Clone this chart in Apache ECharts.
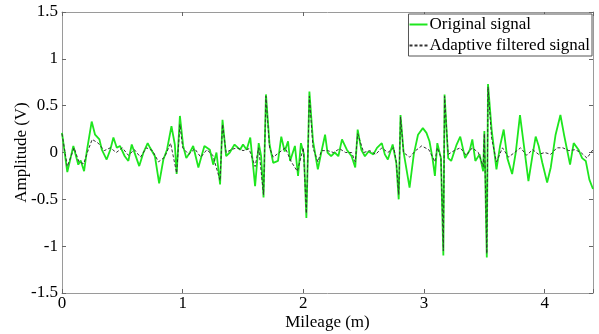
<!DOCTYPE html>
<html>
<head>
<meta charset="utf-8">
<script src="https://cdn.jsdelivr.net/npm/echarts@6/dist/echarts.min.js"></script>
<style>html,body{margin:0;padding:0;background:#fff}#c{width:599px;height:334px}</style>
</head>
<body>
<div id="c"></div>
<script>
const xTicks = [0, 1, 2, 3, 4];
const yTicks = [-1.5, -1, -0.5, 0, 0.5, 1, 1.5];

const origMileage = [0,0.044,0.094,0.135,0.155,0.183,0.205,0.246,0.274,0.31,0.33,0.37,0.40,0.426,0.454,0.48,0.52,0.55,0.578,0.606,0.64,0.675,0.71,0.73,0.77,0.805,0.84,0.87,0.907,0.935,0.95,0.977,1.004,1.03,1.06,1.087,1.13,1.156,1.18,1.225,1.253,1.28,1.31,1.33,1.36,1.39,1.43,1.475,1.50,1.53,1.56,1.585,1.60,1.63,1.65,1.67,1.69,1.72,1.75,1.79,1.817,1.845,1.873,1.89,1.93,1.956,1.98,2.005,2.025,2.05,2.08,2.12,2.15,2.18,2.20,2.23,2.26,2.29,2.32,2.36,2.40,2.43,2.45,2.48,2.51,2.54,2.58,2.61,2.65,2.675,2.70,2.74,2.77,2.79,2.805,2.83,2.88,2.915,2.95,2.99,3.02,3.045,3.07,3.09,3.11,3.14,3.16,3.17,3.20,3.225,3.27,3.30,3.34,3.38,3.40,3.425,3.46,3.49,3.50,3.52,3.53,3.56,3.60,3.63,3.66,3.69,3.73,3.76,3.795,3.83,3.865,3.90,3.925,3.95,3.98,4.02,4.05,4.09,4.13,4.16,4.21,4.24,4.28,4.31,4.34,4.37,4.40];
const origValues = [0.21,-0.21,0.07,-0.13,-0.085,-0.2,0.01,0.33,0.19,0.14,0.03,-0.075,0.03,0.16,0.05,0.07,-0.04,-0.09,0.085,-0.02,-0.145,0.0,0.1,0.05,-0.04,-0.33,-0.075,0.03,0.28,0.085,-0.23,0.39,0.07,-0.06,0.0,0.07,-0.16,-0.04,0.07,0.03,-0.13,0.0,-0.34,0.35,-0.04,0.0,0.085,0.03,0.085,0.03,0.16,-0.16,-0.36,0.1,-0.04,-0.48,0.62,0.085,-0.11,-0.09,0.17,0.01,0.12,-0.09,0.07,-0.25,0.1,-0.02,-0.70,0.65,0.12,-0.18,0.01,0.19,0.0,-0.04,0.0,-0.04,0.14,0.03,-0.04,-0.16,0.245,0.03,-0.04,0.01,-0.02,0.05,0.1,-0.02,-0.075,0.085,-0.11,-0.5,0.40,0.01,-0.375,-0.02,0.19,0.26,0.21,0.12,-0.06,-0.25,0.1,-0.06,-1.10,0.62,-0.06,-0.09,0.085,0.17,-0.06,0.03,0.14,-0.09,-0.02,-0.2,0.23,-1.12,0.73,0.245,-0.18,0.07,0.245,-0.06,-0.23,0.0,0.40,0.05,-0.305,-0.02,0.17,0.07,-0.11,-0.32,-0.16,0.19,0.40,0.19,-0.13,0.1,0.03,-0.06,-0.09,-0.29,-0.39];

const filtMileage = [0,0.044,0.1,0.14,0.18,0.21,0.25,0.3,0.35,0.4,0.45,0.5,0.55,0.6,0.65,0.7,0.75,0.8,0.85,0.9,0.95,0.977,1.0,1.05,1.1,1.15,1.2,1.25,1.31,1.33,1.36,1.4,1.45,1.5,1.55,1.6,1.63,1.67,1.69,1.72,1.75,1.8,1.85,1.9,1.95,2.0,2.025,2.05,2.08,2.12,2.15,2.2,2.25,2.3,2.35,2.4,2.43,2.45,2.5,2.55,2.6,2.65,2.7,2.75,2.77,2.79,2.805,2.83,2.88,2.93,2.98,3.04,3.09,3.11,3.14,3.16,3.17,3.2,3.25,3.3,3.35,3.4,3.45,3.49,3.5,3.52,3.53,3.56,3.6,3.65,3.7,3.75,3.8,3.85,3.9,3.95,4.0,4.05,4.1,4.15,4.2,4.25,4.3,4.35,4.4];
const filtValues = [0.2,-0.15,0.05,-0.1,-0.12,0.0,0.14,0.1,0.02,0.05,0.0,0.05,-0.03,0.03,-0.05,0.05,0.02,-0.1,-0.05,0.1,-0.22,0.3,0.05,-0.02,0.04,-0.05,0.03,-0.03,-0.3,0.3,0.0,0.03,0.05,0.02,0.04,-0.15,0.05,-0.45,0.6,0.05,-0.05,0.0,0.05,-0.1,-0.2,0.05,-0.65,0.6,0.05,-0.1,0.02,0.02,0.0,0.04,0.0,0.0,-0.1,0.2,0.0,0.02,-0.02,0.05,0.0,0.05,-0.1,-0.45,0.38,0.0,-0.05,0.02,0.07,0.03,-0.1,0.05,-0.05,-1.05,0.6,-0.02,0.02,0.05,-0.03,0.05,0.0,-0.15,0.2,-1.08,0.7,0.15,-0.1,0.05,-0.05,0.0,0.05,-0.03,0.03,-0.02,0.0,-0.02,0.05,0.05,0.02,0.03,0.0,-0.06,0.03];

const origData = origMileage.map((x, i) => [x, origValues[i]]);
const filtData = filtMileage.map((x, i) => [x, filtValues[i]]);

const FONT = '"Liberation Serif", "DejaVu Serif", serif';
const axisColor = '#9a9a9a';
const FS = 17;

const chart = echarts.init(document.getElementById('c'), null, {renderer: 'canvas'});
chart.setOption({
  animation: false,
  backgroundColor: '#fff',
  grid: {left: 62, right: 6, top: 12, bottom: 41, containLabel: false, outerBoundsMode: 'none'},
  legend: {
    orient: 'vertical',
    right: 7,
    top: 14,
    align: 'left',
    itemWidth: 18,
    itemHeight: 10,
    itemGap: 4,
    padding: [2, 2, 2, 0],
    borderColor: '#555',
    borderWidth: 1,
    backgroundColor: '#fff',
    itemStyle: {opacity: 0, borderWidth: 0},
    textStyle: {fontFamily: FONT, fontSize: FS, color: '#000', padding: [0, 0, 0, -3]},
    data: ['Original signal', 'Adaptive filtered signal']
  },
  xAxis: [{
    type: 'value', min: 0, max: 4.4, interval: 1,
    name: 'Mileage (m)', nameLocation: 'middle', nameGap: 21, nameMoveOverlap: false,
    nameTextStyle: {fontFamily: FONT, fontSize: FS, color: '#000'},
    axisLine: {onZero: false, lineStyle: {color: axisColor}},
    axisTick: {inside: true, length: 4, lineStyle: {color: '#666'}},
    axisLabel: {fontFamily: FONT, fontSize: FS, color: '#000', margin: 2,
      formatter: v => xTicks.indexOf(v) >= 0 ? String(v) : ''},
    splitLine: {show: false}
  }, {
    type: 'value', min: 0, max: 4.4, interval: 1, position: 'top',
    axisLine: {show: true, onZero: false, lineStyle: {color: axisColor}},
    axisTick: {show: true, inside: true, length: 4, lineStyle: {color: '#666'}},
    axisLabel: {show: false}, splitLine: {show: false}
  }],
  yAxis: [{
    type: 'value', min: -1.5, max: 1.5, interval: 0.5,
    name: 'Amplitude (V)', nameLocation: 'middle', nameGap: 32, nameMoveOverlap: false,
    nameTextStyle: {fontFamily: FONT, fontSize: FS, color: '#000'},
    axisLine: {show: true, onZero: false, lineStyle: {color: axisColor}},
    axisTick: {show: true, inside: true, length: 4, lineStyle: {color: '#666'}},
    axisLabel: {fontFamily: FONT, fontSize: FS, color: '#000', margin: 4,
      formatter: v => yTicks.indexOf(v) >= 0 ? String(v) : ''},
    splitLine: {show: false}
  }, {
    type: 'value', min: -1.5, max: 1.5, interval: 0.5, position: 'right',
    axisLine: {show: true, onZero: false, lineStyle: {color: axisColor}},
    axisTick: {show: true, inside: true, length: 4, lineStyle: {color: '#666'}},
    axisLabel: {show: false}, splitLine: {show: false}
  }],
  series: [{
    name: 'Original signal',
    type: 'line',
    data: origData,
    symbol: 'none',
    lineStyle: {color: '#1ee61e', width: 1.8},
    itemStyle: {color: '#1ee61e'},
    z: 2
  }, {
    name: 'Adaptive filtered signal',
    type: 'line',
    data: filtData,
    symbol: 'none',
    lineStyle: {color: '#333', width: 1, type: [3, 2]},
    itemStyle: {color: '#333'},
    z: 3
  }]
});
</script>
</body>
</html>
